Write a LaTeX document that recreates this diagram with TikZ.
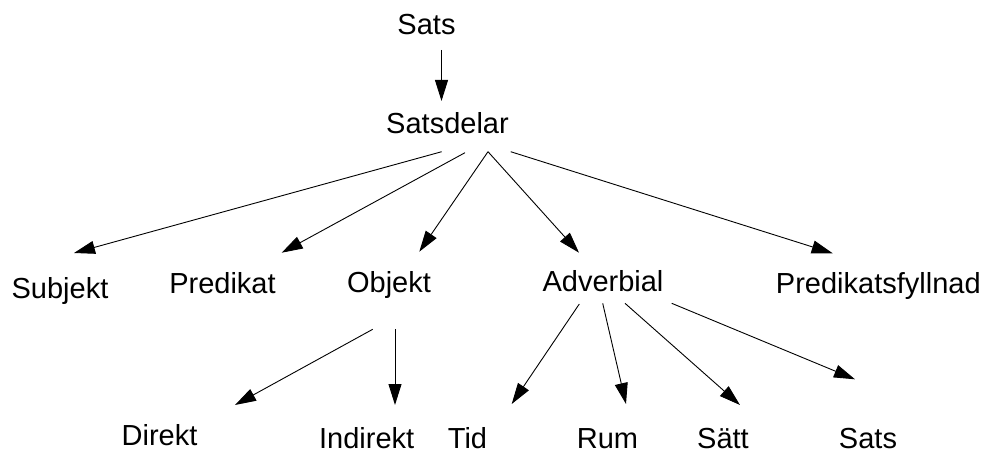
\documentclass[tikz,border=0pt]{standalone}
\usepackage{fontspec}
\setmainfont{Liberation Sans}
\usetikzlibrary{arrows.meta}
\begin{document}
\begin{tikzpicture}[x=1pt,y=-1pt,
  lbl/.style={anchor=base,inner sep=0pt,font=\fontsize{29}{34}\selectfont},
  conn/.style={line width=0.9pt,-{Triangle[length=21pt,width=13pt]}}]
\useasboundingbox (0,0) rectangle (983,452);
% nodes
\node[lbl] (sats) at (426.5,35) {Sats};
\node[lbl] (satsdelar) at (447.5,133.3) {Satsdelar};
\node[lbl] (subjekt) at (60,298.3) {Subjekt};
\node[lbl] (predikat) at (222.5,293) {Predikat};
\node[lbl] (objekt) at (389,292) {Objekt};
\node[lbl] (adverbial) at (603,291) {Adverbial};
\node[lbl] (predfyll) at (878.3,293) {Predikatsfyllnad};
\node[lbl] (direkt) at (159.5,445) {Direkt};
\node[lbl] (indirekt) at (366.7,448.5) {Indirekt};
\node[lbl] (tid) at (467.5,448.5) {Tid};
\node[lbl] (rum) at (607.5,448.5) {Rum};
\node[lbl] (satt) at (723,448.5) {Sätt};
\node[lbl] (sats2) at (868,448.5) {Sats};
% connector end points
\coordinate (s0) at (441.5,50);   \coordinate (s1) at (441.5,101);
\coordinate (d1) at (441.7,151.7); \coordinate (d1e) at (74,253);
\coordinate (d2) at (465,152.7);   \coordinate (d2e) at (281.7,252.7);
\coordinate (d3) at (488,151.7);   \coordinate (d3e) at (419.3,251.7);
\coordinate (d4) at (488,151.7);   \coordinate (d4e) at (579,252.7);
\coordinate (d5) at (510.7,151.7); \coordinate (d5e) at (832.7,253.3);
\coordinate (o1) at (372.7,329.3); \coordinate (o1e) at (235,405);
\coordinate (o2) at (395,329.3);   \coordinate (o2e) at (395,405);
\coordinate (a1) at (579.3,304);   \coordinate (a1e) at (511.7,404);
\coordinate (a2) at (602.7,303.3); \coordinate (a2e) at (626,404);
\coordinate (a3) at (625,303.3);   \coordinate (a3e) at (740,405);
\coordinate (a4) at (671.7,303.3); \coordinate (a4e) at (855,379.3);
% connectors
\draw[conn] (s0) -- (s1);
\draw[conn] (d1) -- (d1e);
\draw[conn] (d2) -- (d2e);
\draw[conn] (d3) -- (d3e);
\draw[conn] (d4) -- (d4e);
\draw[conn] (d5) -- (d5e);
\draw[conn] (o1) -- (o1e);
\draw[conn] (o2) -- (o2e);
\draw[conn] (a1) -- (a1e);
\draw[conn] (a2) -- (a2e);
\draw[conn] (a3) -- (a3e);
\draw[conn] (a4) -- (a4e);
\end{tikzpicture}
\end{document}
